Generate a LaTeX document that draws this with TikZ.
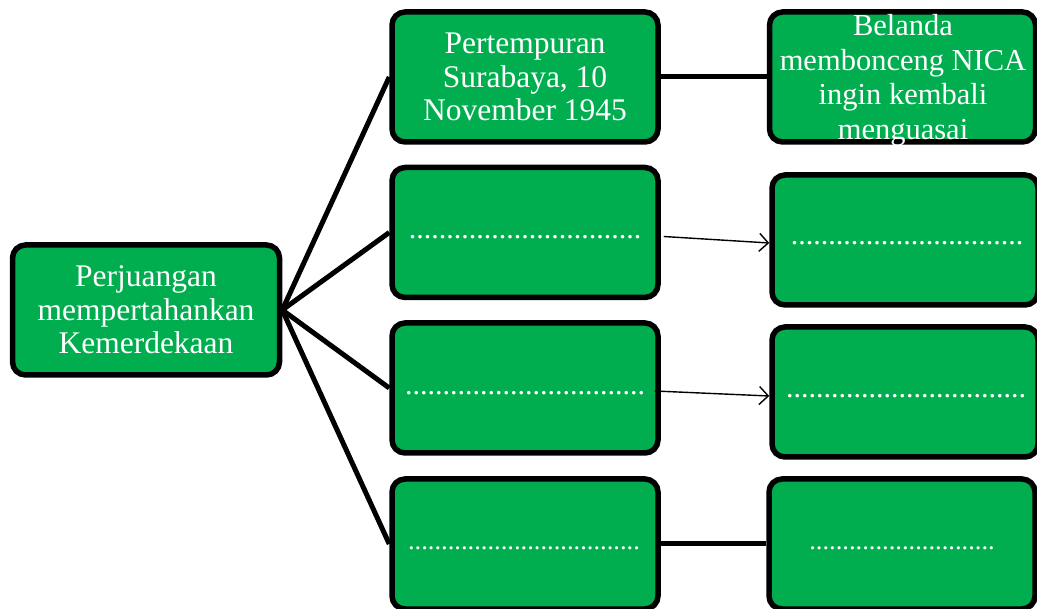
\documentclass[tikz,border=0pt]{standalone}
\usepackage{fontspec}
\setmainfont{Liberation Serif}
\usetikzlibrary{arrows.meta}
\definecolor{boxgreen}{HTML}{00AE50}
\tikzset{
  gbox/.style={draw=black, line width=5.5pt, fill=boxgreen, rounded corners=13pt,
    minimum width=266pt, minimum height=130pt, inner sep=0pt},
  txt/.style={text=white, align=center, inner sep=0pt, font=\fontsize{31.5}{33.5}\selectfont},
  dots/.style={text=white, inner sep=0pt, font=\fontsize{30}{33}\selectfont},
  thick line/.style={line width=5pt, draw=black},
  thin arrow/.style={line width=1.4pt, draw=black, -{Straight Barb[length=9pt,width=18pt,line width=1.4pt]}}
}
\begin{document}
\begin{tikzpicture}[x=1pt,y=-1pt]
\useasboundingbox (0,0) rectangle (1037,609);
\begin{scope}
\clip (0,0) rectangle (1037,609);
% left root
\node[gbox, minimum width=267pt] (root) at (146,310) {};
% column 2
\node[gbox] (b1) at (525,77) {};
\node[gbox] (b2) at (525,232.5) {};
\node[gbox] (b3) at (525,388) {};
\node[gbox] (b4) at (525,544) {};
% column 3
\node[gbox] (c1) at (902.5,77) {};
\node[gbox] (c2) at (905,240) {};
\node[gbox] (c3) at (905,392) {};
\node[gbox] (c4) at (902,544) {};
% connectors
\draw[thick line] (root.east) -- (b1.west);
\draw[thick line] (root.east) -- (b2.west);
\draw[thick line] (root.east) -- (b3.west);
\draw[thick line] (root.east) -- (b4.west);
\draw[thick line] (b1.east) -- (c1.west);
\draw[thick line] (b4.east) -- (c4.west);
\draw[thin arrow] ([shift={(3,4)}]b2.east) -- ([shift={(0,3)}]c2.west);
\draw[thin arrow] ([shift={(-6,3)}]b3.east) -- ([shift={(0,4)}]c3.west);
% texts
\node[txt] (rootT) at (root) {Perjuangan\\mempertahankan\\Kemerdekaan};
\node[txt] (b1T) at (b1) {Pertempuran\\Surabaya, 10\\November 1945};
\node[txt, font=\fontsize{30.5}{34.5}\selectfont] (c1T) at (903,80) {Belanda\\membonceng NICA\\ingin kembali\\menguasai};
\node[dots] (b2T) at (525,237) {...............................};
\node[dots] (b3T) at (525,393) {................................};
\node[dots, font=\fontsize{26.5}{30}\selectfont] (b4T) at (524,548) {...................................};
\node[dots] (c2T) at (907,243) {...............................};
\node[dots] (c3T) at (906,396) {................................};
\node[dots, font=\fontsize{26.5}{30}\selectfont] (c4T) at (902,548) {............................};
\end{scope}
\end{tikzpicture}
\end{document}
